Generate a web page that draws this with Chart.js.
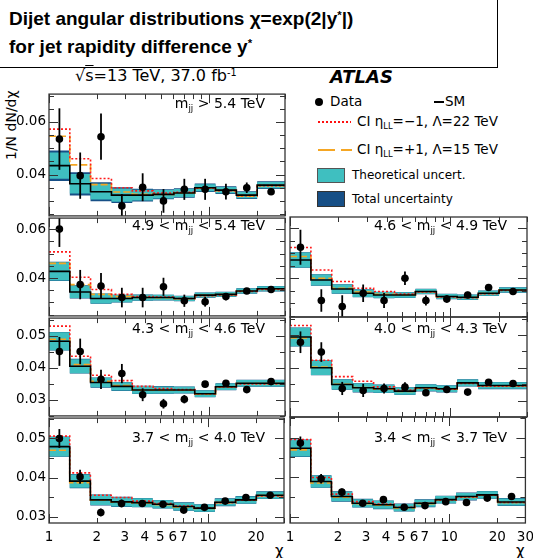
<!DOCTYPE html>
<html>
<head>
<meta charset="utf-8">
<script src="https://cdn.jsdelivr.net/npm/chart.js@4.4.1/dist/chart.umd.min.js"></script>
<style>
  html, body { margin: 0; padding: 0; background: #fff; }
  body { position: relative; width: 533px; height: 558px; overflow: hidden; font-family: "DejaVu Sans", sans-serif; color: #000; }
  canvas { position: absolute; }
  .txt { position: absolute; white-space: nowrap; line-height: 1; }
  .sub { font-size: 0.62em; position: relative; top: 0.35em; }
  .sup { font-size: 0.6em; position: relative; top: -0.55em; }
  #titlebox { position: absolute; left: -2px; top: -2px; width: 500px; height: 70px; border: 1.5px solid #000; box-sizing: border-box;
              font-family: "Liberation Sans", Arial, sans-serif; font-weight: bold; font-size: 19px; }
  .leg { font-size: 13.5px; }
  .leg2 { font-size: 12px; }
</style>
</head>
<body>
<div id="titlebox">
  <div class="txt" style="left:10px; top:10px;">Dijet angular distributions χ=exp(2|y<span class="sup">*</span>|)</div>
  <div class="txt" style="left:10px; top:38px;">for jet rapidity difference y<span class="sup">*</span></div>
</div>

<div class="txt" style="left:75px; top:68px; font-size:16px;">√<span style="text-decoration:overline">s</span>=13 TeV, 37.0 fb<span class="sup">-1</span></div>
<div class="txt" style="left:330px; top:68px; font-size:18px; font-weight:bold; font-style:italic;">ATLAS</div>
<div class="txt" style="left:4px; top:160px; font-size:14px; transform-origin:0 0; transform:rotate(-90deg);">1/N dN/dχ</div>

<!-- legend -->
<div style="position:absolute; left:315px; top:98px; width:8px; height:8px; border-radius:50%; background:#000;"></div>
<div class="txt leg" style="left:330px; top:95px;">Data</div>
<div style="position:absolute; left:434px; top:101px; width:10px; height:2px; background:#000;"></div>
<div class="txt leg" style="left:445px; top:95px;">SM</div>
<div style="position:absolute; left:318px; top:121px; width:33px; height:2px; background:repeating-linear-gradient(90deg,#ff1010 0 2px,transparent 2px 4px);"></div>
<div class="txt leg" style="left:357px; top:115px;">CI η<span class="sub">LL</span>=−1, Λ=22 TeV</div>
<div style="position:absolute; left:318px; top:149px; width:34px; height:2px; background:repeating-linear-gradient(90deg,#f5a623 0 17px,transparent 17px 23px);"></div>
<div class="txt leg" style="left:357px; top:143px;">CI η<span class="sub">LL</span>=+1, Λ=15 TeV</div>
<div style="position:absolute; left:317px; top:168px; width:28px; height:15px; background:#3fbfc0; border:1px solid #555; box-sizing:border-box;"></div>
<div class="txt leg2" style="left:352px; top:169px;">Theoretical uncert.</div>
<div style="position:absolute; left:317px; top:191px; width:28px; height:16px; background:#174f86; border:1px solid #333; box-sizing:border-box;"></div>
<div class="txt leg2" style="left:352px; top:193px;">Total uncertainty</div>

<div class="txt" style="left:275px; top:544px; font-size:15px;">χ</div>
<div class="txt" style="left:516px; top:544px; font-size:15px;">χ</div>

<script>
// chi bin edges (log axis 1..30)
const chiEdges = [1.00, 1.35, 1.82, 2.46, 3.32, 4.48, 6.05, 8.17, 11.02, 14.88, 20.09, 30.0];

// panel order: m>5.4, 4.9-5.4, 4.6-4.9, 4.3-4.6, 4.0-4.3, 3.7-4.0, 3.4-3.7
const massLabels = [
  'm<span class="sub">jj</span> &gt; 5.4 TeV',
  '4.9 &lt; m<span class="sub">jj</span> &lt; 5.4 TeV',
  '4.6 &lt; m<span class="sub">jj</span> &lt; 4.9 TeV',
  '4.3 &lt; m<span class="sub">jj</span> &lt; 4.6 TeV',
  '4.0 &lt; m<span class="sub">jj</span> &lt; 4.3 TeV',
  '3.7 &lt; m<span class="sub">jj</span> &lt; 4.0 TeV',
  '3.4 &lt; m<span class="sub">jj</span> &lt; 3.7 TeV'
];

const dataVals = [
  [0.0535, 0.0396, 0.0544, 0.0281, 0.0352, 0.0300, 0.0344, 0.0344, 0.0335, 0.0350, 0.0335],
  [0.0600, 0.0373, 0.0367, 0.0320, 0.0320, 0.0364, 0.0307, 0.0303, 0.0324, 0.0347, 0.0353],
  [0.0524, 0.0311, 0.0287, 0.0340, 0.0311, 0.0400, 0.0311, 0.0317, 0.0333, 0.0363, 0.0347],
  [0.0451, 0.0451, 0.0364, 0.0382, 0.0316, 0.0288, 0.0302, 0.0349, 0.0352, 0.0332, 0.0357],
  [0.0478, 0.0448, 0.0337, 0.0331, 0.0337, 0.0341, 0.0324, 0.0334, 0.0326, 0.0356, 0.0352],
  [0.0500, 0.0402, 0.0311, 0.0334, 0.0334, 0.0332, 0.0317, 0.0324, 0.0340, 0.0349, 0.0355],
  [0.0486, 0.0396, 0.0362, 0.0334, 0.0343, 0.0324, 0.0328, 0.0338, 0.0336, 0.0347, 0.0351]
];

const dataErr = [
  [0.0117, 0.0088, 0.0088, 0.0045, 0.0053, 0.0045, 0.0040, 0.0040, 0.0030, 0.0020, 0.0012],
  [0.0073, 0.0060, 0.0053, 0.0040, 0.0040, 0.0037, 0.0025, 0.0020, 0.0015, 0.0010, 0.0007],
  [0.0070, 0.0045, 0.0045, 0.0035, 0.0030, 0.0027, 0.0020, 0.0015, 0.0013, 0.0010, 0.0006],
  [0.0045, 0.0040, 0.0030, 0.0030, 0.0020, 0.0015, 0.0013, 0.0010, 0.0008, 0.0006, 0.0005],
  [0.0033, 0.0030, 0.0020, 0.0020, 0.0015, 0.0015, 0.0010, 0.0010, 0.0008, 0.0007, 0.0005],
  [0.0024, 0.0018, 0.0010, 0.0010, 0.0008, 0.0007, 0.0006, 0.0005, 0.0004, 0.0004, 0.0003],
  [0.0017, 0.0012, 0.0009, 0.0007, 0.0006, 0.0005, 0.0005, 0.0004, 0.0004, 0.0004, 0.0003]
];

const smVals = [
  [0.0434, 0.0365, 0.0335, 0.0322, 0.0322, 0.0325, 0.0330, 0.0350, 0.0341, 0.0322, 0.0360],
  [0.0427, 0.0343, 0.0316, 0.0316, 0.0320, 0.0320, 0.0316, 0.0330, 0.0333, 0.0347, 0.0356],
  [0.0473, 0.0393, 0.0357, 0.0340, 0.0333, 0.0333, 0.0347, 0.0327, 0.0324, 0.0340, 0.0353],
  [0.0483, 0.0405, 0.0354, 0.0342, 0.0331, 0.0331, 0.0331, 0.0319, 0.0341, 0.0352, 0.0352],
  [0.0494, 0.0400, 0.0349, 0.0339, 0.0336, 0.0329, 0.0339, 0.0336, 0.0354, 0.0346, 0.0346],
  [0.0479, 0.0391, 0.0343, 0.0338, 0.0336, 0.0332, 0.0326, 0.0322, 0.0337, 0.0343, 0.0355],
  [0.0473, 0.0389, 0.0351, 0.0334, 0.0330, 0.0323, 0.0334, 0.0343, 0.0351, 0.0355, 0.0337]
];

// CI, eta_LL = -1, Lambda = 22 TeV
const ciMinus = [
  [0.0573, 0.0460, 0.0385, 0.0350, 0.0338, 0.0330, 0.0333, 0.0348, 0.0339, 0.0320, 0.0358],
  [0.0507, 0.0403, 0.0353, 0.0333, 0.0324, 0.0322, 0.0316, 0.0328, 0.0331, 0.0345, 0.0353],
  [0.0523, 0.0433, 0.0387, 0.0360, 0.0347, 0.0337, 0.0345, 0.0325, 0.0322, 0.0338, 0.0351],
  [0.0530, 0.0436, 0.0377, 0.0360, 0.0342, 0.0335, 0.0332, 0.0319, 0.0340, 0.0350, 0.0350],
  [0.0529, 0.0423, 0.0373, 0.0359, 0.0342, 0.0332, 0.0339, 0.0335, 0.0352, 0.0344, 0.0344],
  [0.0506, 0.0412, 0.0355, 0.0349, 0.0340, 0.0334, 0.0327, 0.0322, 0.0336, 0.0342, 0.0353],
  [0.0495, 0.0399, 0.0357, 0.0338, 0.0332, 0.0324, 0.0334, 0.0342, 0.0350, 0.0354, 0.0336]
];

// CI, eta_LL = +1, Lambda = 15 TeV
const ciPlus = [
  [0.0546, 0.0437, 0.0362, 0.0334, 0.0325, 0.0325, 0.0330, 0.0348, 0.0339, 0.0318, 0.0358],
  [0.0460, 0.0373, 0.0333, 0.0324, 0.0320, 0.0319, 0.0315, 0.0329, 0.0332, 0.0346, 0.0355],
  [0.0487, 0.0400, 0.0360, 0.0345, 0.0336, 0.0334, 0.0346, 0.0326, 0.0323, 0.0339, 0.0352],
  [0.0489, 0.0410, 0.0358, 0.0345, 0.0331, 0.0330, 0.0330, 0.0318, 0.0340, 0.0351, 0.0351],
  [0.0491, 0.0402, 0.0350, 0.0340, 0.0335, 0.0328, 0.0338, 0.0335, 0.0353, 0.0345, 0.0345],
  [0.0470, 0.0387, 0.0342, 0.0337, 0.0335, 0.0331, 0.0325, 0.0321, 0.0336, 0.0342, 0.0354],
  [0.0469, 0.0385, 0.0349, 0.0333, 0.0329, 0.0322, 0.0333, 0.0342, 0.0350, 0.0354, 0.0336]
];

// half widths of the bands around SM
const theoUnc = [
  [0.0050, 0.0037, 0.0030, 0.0025, 0.0020, 0.0016, 0.0015, 0.0013, 0.0012, 0.0012, 0.0012],
  [0.0037, 0.0025, 0.0020, 0.0015, 0.0012, 0.0011, 0.0010, 0.0010, 0.0010, 0.0010, 0.0010],
  [0.0030, 0.0022, 0.0018, 0.0015, 0.0012, 0.0011, 0.0010, 0.0010, 0.0010, 0.0010, 0.0010],
  [0.0028, 0.0022, 0.0015, 0.0013, 0.0012, 0.0011, 0.0010, 0.0010, 0.0010, 0.0010, 0.0010],
  [0.0028, 0.0022, 0.0015, 0.0013, 0.0012, 0.0011, 0.0010, 0.0010, 0.0010, 0.0010, 0.0010],
  [0.0025, 0.0017, 0.0013, 0.0012, 0.0011, 0.0010, 0.0010, 0.0009, 0.0009, 0.0009, 0.0009],
  [0.0021, 0.0015, 0.0012, 0.0010, 0.0010, 0.0009, 0.0009, 0.0009, 0.0009, 0.0009, 0.0009]
];
const totUnc = [
  [0.0058, 0.0044, 0.0036, 0.0030, 0.0024, 0.0019, 0.0018, 0.0016, 0.0015, 0.0015, 0.0015],
  [0.0039, 0.0027, 0.0021, 0.0016, 0.0013, 0.0012, 0.0011, 0.0011, 0.0011, 0.0011, 0.0011],
  [0.0031, 0.0023, 0.0019, 0.0016, 0.0013, 0.0012, 0.0011, 0.0011, 0.0011, 0.0011, 0.0011],
  [0.0029, 0.0023, 0.0016, 0.0014, 0.0013, 0.0012, 0.0011, 0.0011, 0.0011, 0.0011, 0.0011],
  [0.0029, 0.0023, 0.0016, 0.0014, 0.0013, 0.0012, 0.0011, 0.0011, 0.0011, 0.0011, 0.0011],
  [0.0026, 0.0018, 0.0014, 0.0013, 0.0012, 0.0011, 0.0011, 0.0010, 0.0010, 0.0010, 0.0010],
  [0.0022, 0.0016, 0.0013, 0.0011, 0.0011, 0.0010, 0.0010, 0.0010, 0.0010, 0.0010, 0.0010]
];

// axis settings
const xTickVals = [1, 2, 3, 4, 5, 6, 7, 8, 9, 10, 20, 30];
const xLabelVals = [1, 2, 3, 4, 5, 6, 7, 10, 20, 30];
const yRange = [[0.0243, 0.0706], [0.0245, 0.0645], [0.025, 0.0555], [0.0284, 0.0552]];
const yLabels = [[0.04, 0.06], [0.04, 0.06], [0.03, 0.04, 0.05], [0.03, 0.04, 0.05]];
const yMajor = [0.02, 0.02, 0.01, 0.01];

// layout
const panelPos = [[0, 0], [0, 1], [1, 1], [0, 2], [1, 2], [0, 3], [1, 3]]; // [col,row]
const rowTop = [93, 217, 317, 417];
const rowBot = [217, 317, 417, 523];
const labelTop = [96, 218, 321, 430];

const centers = chiEdges.slice(0, -1).map((e, i) => Math.sqrt(e * chiEdges[i + 1]));
function steps(vals) {
  return chiEdges.map((e, i) => ({x: e, y: vals[Math.min(i, vals.length - 1)]}));
}

const frame = {
  id: 'frame',
  afterDatasetsDraw(chart, args, opts) {
    const {ctx, chartArea: a, scales: {x, y}} = chart;
    ctx.save();
    ctx.beginPath();
    ctx.rect(a.left, a.top, a.right - a.left, a.bottom - a.top);
    ctx.clip();
    ctx.strokeStyle = '#000';
    ctx.lineWidth = 1.8;
    chart.data.datasets.forEach(ds => {
      if (!ds.errors) return;
      ds.data.forEach((pt, k) => {
        const px = x.getPixelForValue(pt.x);
        ctx.beginPath();
        ctx.moveTo(px, y.getPixelForValue(pt.y + ds.errors[k]));
        ctx.lineTo(px, y.getPixelForValue(pt.y - ds.errors[k]));
        ctx.stroke();
      });
    });
    ctx.restore();

    ctx.save();
    ctx.strokeStyle = '#333';
    ctx.lineWidth = 1.3;
    ctx.strokeRect(a.left, a.top, a.right - a.left, a.bottom - a.top);
    ctx.lineWidth = 1;
    ctx.beginPath();
    xTickVals.forEach(v => {
      const px = Math.round(x.getPixelForValue(v)) + 0.5;
      const len = (v === 1 || v === 10) ? 9 : 5;
      ctx.moveTo(px, a.bottom); ctx.lineTo(px, a.bottom - len);
      ctx.moveTo(px, a.top); ctx.lineTo(px, a.top + len);
    });
    const step = 0.005;
    for (let k = Math.ceil(y.min / step - 1e-6); k * step <= y.max + 1e-9; k++) {
      const v = k * step;
      const py = Math.round(y.getPixelForValue(v)) + 0.5;
      const r = v / opts.yMajor;
      const len = Math.abs(r - Math.round(r)) < 1e-6 ? 9 : 5;
      ctx.moveTo(a.left, py); ctx.lineTo(a.left + len, py);
      ctx.moveTo(a.right, py); ctx.lineTo(a.right - len, py);
    }
    ctx.stroke();
    ctx.restore();
  }
};

const tickFont = {family: 'DejaVu Sans', size: 13.5};

panelPos.forEach(([col, row], i) => {
  const isBottom = row === 3;
  const left = col === 0 ? 0 : 276;
  const width = col === 0 ? 290 : 264;
  const top = rowTop[row] - 10;
  const height = (isBottom ? 558 : rowBot[row] + 10) - top;
  const cv = document.createElement('canvas');
  cv.width = width;
  cv.height = height;
  cv.style.left = left + 'px';
  cv.style.top = top + 'px';
  document.body.appendChild(cv);

  const sm = smVals[i];
  const band = (u, sign) => steps(sm.map((v, k) => v + sign * u[i][k]));
  const stepLine = {stepped: true, pointRadius: 0, pointHoverRadius: 0, fill: false};

  new Chart(cv, {
    type: 'line',
    data: {
      datasets: [
        {label: 'Data', data: centers.map((c, k) => ({x: c, y: dataVals[i][k]})), errors: dataErr[i],
         showLine: false, pointRadius: 3.8, pointHoverRadius: 3.8, pointBackgroundColor: '#000', pointBorderWidth: 0},
        {...stepLine, label: 'SM', data: steps(sm), borderColor: '#000', borderWidth: 1.6},
        {...stepLine, label: 'CI -1', data: steps(ciMinus[i]), borderColor: '#ff1a1a', borderWidth: 1.6, borderDash: [2, 2]},
        {...stepLine, label: 'CI +1', data: steps(ciPlus[i]), borderColor: '#f5a623', borderWidth: 1.6, borderDash: [7, 3]},
        {...stepLine, label: 'theo hi', data: band(theoUnc, 1), borderColor: 'transparent', borderWidth: 0, backgroundColor: '#3fbfc0', fill: '+1'},
        {...stepLine, label: 'theo lo', data: band(theoUnc, -1), borderColor: 'transparent', borderWidth: 0},
        {...stepLine, label: 'tot hi', data: band(totUnc, 1), borderColor: 'transparent', borderWidth: 0, backgroundColor: '#174f86', fill: '+1'},
        {...stepLine, label: 'tot lo', data: band(totUnc, -1), borderColor: 'transparent', borderWidth: 0}
      ]
    },
    options: {
      responsive: false,
      animation: false,
      devicePixelRatio: 1,
      events: [],
      layout: {padding: {top: 10, bottom: isBottom ? 0 : 10, left: col ? 14 : 0, right: col ? 13 : 5}},
      plugins: {legend: {display: false}, tooltip: {enabled: false}, frame: {yMajor: yMajor[row]}},
      scales: {
        x: {
          type: 'logarithmic', min: 1, max: 30, display: isBottom,
          grid: {display: false, drawTicks: false}, border: {display: false},
          afterBuildTicks: s => { s.ticks = xTickVals.map(v => ({value: v})); },
          afterFit: s => { if (isBottom) s.height = 35; },
          ticks: {
            autoSkip: false, maxRotation: 0, minRotation: 0, padding: 6, font: tickFont, color: '#000',
            callback: v => (xLabelVals.includes(v) && !(v === 30 && col === 0)) ? String(v) : ''
          }
        },
        y: {
          type: 'linear', min: yRange[row][0], max: yRange[row][1], display: col === 0,
          grid: {display: false, drawTicks: false}, border: {display: false},
          afterBuildTicks: s => { s.ticks = yLabels[row].map(v => ({value: v})); },
          afterFit: s => { if (col === 0) s.width = 49; },
          ticks: {padding: 3, font: tickFont, color: '#000', callback: v => v.toFixed(2)}
        }
      }
    },
    plugins: [frame]
  });

  const lab = document.createElement('div');
  lab.className = 'txt';
  lab.style.fontSize = '14px';
  lab.style.right = (col === 0 ? 533 - 265 : 533 - 507) + 'px';
  lab.style.top = labelTop[row] + 'px';
  lab.innerHTML = massLabels[i];
  document.body.appendChild(lab);
});
</script>
</body>
</html>
